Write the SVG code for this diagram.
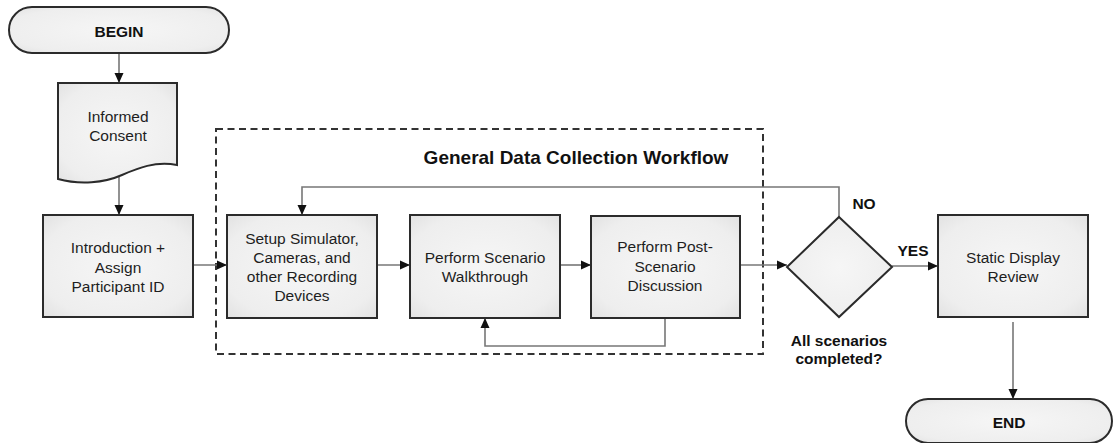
<svg xmlns="http://www.w3.org/2000/svg" width="1115" height="443" viewBox="0 0 1115 443">
  <defs>
    <radialGradient id="boxFill" cx="50%" cy="50%" r="70%">
      <stop offset="0%" stop-color="#f6f6f6"/>
      <stop offset="75%" stop-color="#eeeeee"/>
      <stop offset="100%" stop-color="#e2e2e2"/>
    </radialGradient>
    <marker id="arrow" markerUnits="userSpaceOnUse" markerWidth="12" markerHeight="10" refX="10" refY="5" orient="auto">
      <path d="M0,0.5 L10,5 L0,9.5 Z" fill="#111"/>
    </marker>
    <style>
      .shape { fill: url(#boxFill); stroke: #2b2b2b; stroke-width: 2; }
      .frame { fill: none; stroke: #333; stroke-width: 2; stroke-dasharray: 7 4.5; }
      .link { fill: none; stroke: #777; stroke-width: 1.6; }
      .link.arr { marker-end: url(#arrow); }
      .label { font-family: "Liberation Sans", Arial, sans-serif; font-size: 15.5px; fill: #1e1e1e; text-anchor: middle; }
      .bold { font-weight: bold; fill: #111; }
      .title { font-family: "Liberation Sans", Arial, sans-serif; font-size: 19px; font-weight: bold; fill: #111; text-anchor: middle; }
    </style>
  </defs>

  <rect width="1115" height="443" fill="#ffffff"/>

  <!-- dashed boundary of the repeated data collection steps -->
  <g id="workflow-frame">
    <rect class="frame" x="216" y="129" width="547" height="225"/>
    <text class="title" x="576" y="164">General Data Collection Workflow</text>
  </g>

  <!-- connectors -->
  <g id="connectors">
    <path class="link arr" d="M119,53 V83"/>
    <path class="link arr" d="M119,177 V215"/>
    <path class="link arr" d="M193,265 H227"/>
    <path class="link arr" d="M377,265 H410"/>
    <path class="link arr" d="M560,265 H591"/>
    <path class="link arr" d="M740,265 H787"/>
    <path class="link arr" d="M892,266 H938"/>
    <path class="link arr" d="M839,217 V187 H302 V215"/>
    <path class="link arr" d="M665,318 V346 H485 V318"/>
    <path class="link arr" d="M1013,322 V399"/>
    <text class="label bold" x="864" y="209">NO</text>
    <text class="label bold" x="913" y="256">YES</text>
  </g>

  <g id="begin">
    <rect class="shape" x="9" y="7" width="220" height="46" rx="23" ry="23"/>
    <text class="label bold" x="119" y="37">BEGIN</text>
  </g>

  <g id="informed-consent">
    <path class="shape" d="M58,83 H177 V165 C155,161 138,168 122,175 C104,183 80,185 58,179 Z"/>
    <text class="label" x="118" y="122">Informed</text>
    <text class="label" x="118" y="141">Consent</text>
  </g>

  <g id="introduction">
    <rect class="shape" x="43" y="215" width="150" height="102"/>
    <text class="label" x="118" y="253">Introduction +</text>
    <text class="label" x="118" y="273">Assign</text>
    <text class="label" x="118" y="292">Participant ID</text>
  </g>

  <g id="setup">
    <rect class="shape" x="227" y="215" width="150" height="103"/>
    <text class="label" x="302" y="244">Setup Simulator,</text>
    <text class="label" x="302" y="263">Cameras, and</text>
    <text class="label" x="302" y="282">other Recording</text>
    <text class="label" x="302" y="301">Devices</text>
  </g>

  <g id="walkthrough">
    <rect class="shape" x="410" y="215" width="150" height="103"/>
    <text class="label" x="485" y="263">Perform Scenario</text>
    <text class="label" x="485" y="282">Walkthrough</text>
  </g>

  <g id="discussion">
    <rect class="shape" x="591" y="216" width="149" height="102"/>
    <text class="label" x="665" y="252">Perform Post-</text>
    <text class="label" x="665" y="272">Scenario</text>
    <text class="label" x="665" y="291">Discussion</text>
  </g>

  <g id="decision">
    <path class="shape" d="M839,217 L892,267 L839,317 L787,267 Z"/>
    <text class="label bold" x="839" y="346">All scenarios</text>
    <text class="label bold" x="839" y="364">completed?</text>
  </g>

  <g id="static-review">
    <rect class="shape" x="938" y="215" width="150" height="102"/>
    <text class="label" x="1013" y="263">Static Display</text>
    <text class="label" x="1013" y="282">Review</text>
  </g>

  <g id="end">
    <rect class="shape" x="906" y="399" width="206" height="44" rx="22" ry="22"/>
    <text class="label bold" x="1009" y="428">END</text>
  </g>
</svg>
